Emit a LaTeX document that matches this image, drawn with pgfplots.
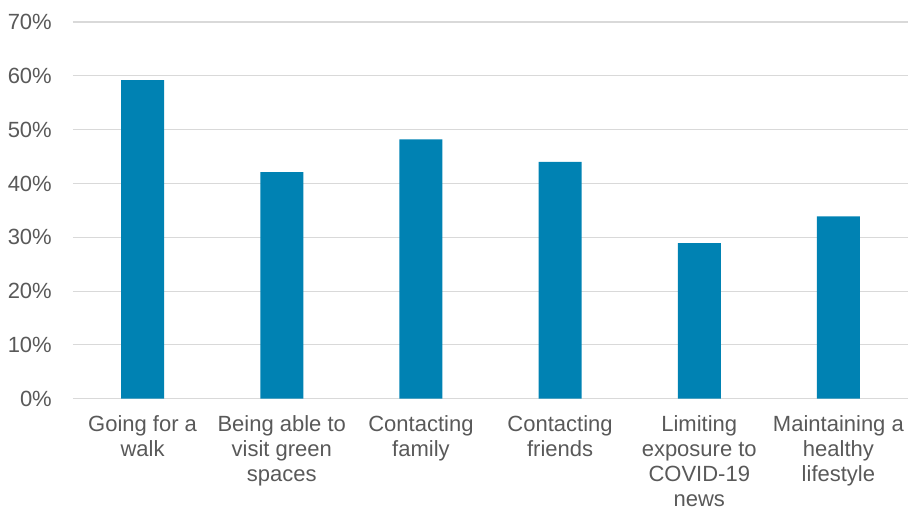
\documentclass[border=0pt]{standalone}
\usepackage{pgfplots}
\pgfplotsset{compat=1.18}
\usepackage{fontspec}
\setmainfont{Liberation Sans}
\definecolor{barblue}{RGB}{0,130,179}
\definecolor{gridgray}{RGB}{217,217,217}
\definecolor{txtgray}{RGB}{89,89,89}
\begin{document}
\begin{tikzpicture}
\path[use as bounding box] (-73bp,-115.3bp) rectangle (836bp,398.7bp);
\begin{axis}[
  at={(0,0)}, anchor=south west,
  scale only axis,
  width=835bp, height=376.7bp,
  xmin=-0.5, xmax=5.5,
  ymin=0, ymax=70,
  xtick={0,1,2,3,4,5},
  xticklabels={{Going for a\\walk},{Being able to\\visit green\\spaces},{Contacting\\family},{Contacting\\friends},{Limiting\\exposure to\\COVID-19\\news},{Maintaining a\\healthy\\lifestyle}},
  ytick={0,10,20,30,40,50,60,70},
  yticklabels={0\%,10\%,20\%,30\%,40\%,50\%,60\%,70\%},
  ymajorgrids,
  grid style={draw=gridgray, line width=1.1bp},
  axis line style={draw=none},
  major tick length=0pt,
  tick style={draw=none},
  xticklabel style={font=\fontsize{22bp}{25bp}\selectfont, text=txtgray, align=center, anchor=north, inner sep=0pt, yshift=-17bp},
  yticklabel style={font=\fontsize{22bp}{25bp}\selectfont, text=txtgray, anchor=east, inner sep=0pt, xshift=-21bp},
  clip=false,
]
\addplot[ybar, bar width=43bp, fill=barblue, draw=none] coordinates {
  (0,59.2) (1,42.1) (2,48.2) (3,44.0) (4,28.9) (5,33.9)
};
\end{axis}
\end{tikzpicture}
\end{document}
